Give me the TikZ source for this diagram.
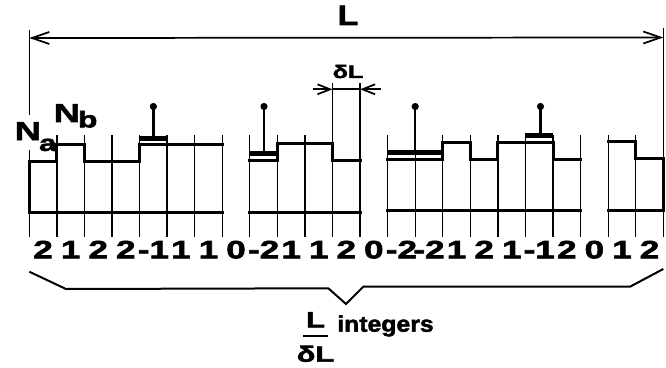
\documentclass[tikz,border=0pt]{standalone}
\usepackage{fontspec}
\setmainfont{Liberation Sans}
\newfontfamily\labfont{Liberation Sans}[FakeStretch=1.4, BoldFeatures={FakeBold=2.5}]
\newfontfamily\capfont{Liberation Sans}[FakeStretch=1.2, BoldFeatures={FakeBold=2.5}]
\newfontfamily\wordfont{Liberation Sans}[FakeStretch=1.1, BoldFeatures={FakeBold=2}]
\usetikzlibrary{arrows.meta}

% x position of the k-th cell boundary (in px)
\def\cx#1{29.3+27.565*#1}

\begin{document}
\begin{tikzpicture}[x=0.75pt,y=-0.75pt,
  gridline/.style={line width=1pt},
  profile/.style={line width=2.25pt, line join=miter, line cap=rect},
  barmark/.style={line width=3.75pt},
  stem/.style={line width=1.7pt},
  dimline/.style={line width=1.3pt},
  bracket/.style={line width=1.5pt, line join=miter},
  bigtip/.tip={Straight Barb[length=13pt, width=9pt, line width=1.3pt]},
  smalltip/.tip={Straight Barb[length=9.5pt, width=7.5pt, line width=1.3pt]},
  numlab/.style={font=\labfont\bfseries\fontsize{18.8pt}{20pt}\selectfont, anchor=base, inner sep=0pt},
  levlab/.style={font=\labfont\bfseries\fontsize{19.5pt}{21pt}\selectfont, anchor=base west, inner sep=0pt},
  dimlab/.style={font=\labfont\bfseries\fontsize{13.5pt}{15pt}\selectfont, anchor=base, inner sep=0pt},
  toplab/.style={font=\capfont\bfseries\fontsize{21pt}{23pt}\selectfont, anchor=base, inner sep=0pt},
  fraclab/.style={font=\labfont\bfseries\fontsize{16.5pt}{18pt}\selectfont, anchor=base, inner sep=0pt},
  wordlab/.style={font=\wordfont\bfseries\fontsize{16.9pt}{18pt}\selectfont, anchor=base west, inner sep=0pt},
]
\useasboundingbox (0,0) rectangle (666,367);

% ---- cell boundaries ----
\foreach \k in {1,...,10,13,14,...,22}
  \draw[gridline] ({\cx{\k}},135) -- ({\cx{\k}},236.7);
\draw[gridline] ({\cx{11}},83) -- ({\cx{11}},236.7);
\draw[gridline] ({\cx{12}},83) -- ({\cx{12}},236.7);
\draw[gridline] ({\cx{0}},30) -- ({\cx{0}},115);
\draw[gridline] ({\cx{0}},150) -- ({\cx{0}},236.7);
\draw[gridline] ({\cx{23}},28) -- ({\cx{23}},236.7);

% ---- total length L ----
\coordinate (Lw) at ({\cx{0}},38);
\coordinate (Le) at ({\cx{23}},37.5);
\draw[dimline, bigtip-bigtip] (Lw) -- (Le);
\node[toplab] (Ltop) at (348,25) {L};

% ---- cell width dL ----
\coordinate (dLa) at (313,89.3);
\coordinate (dLb) at ({\cx{11}},89.3);
\coordinate (dLc) at ({\cx{12}},89.3);
\coordinate (dLd) at (381,89.3);
\draw[dimline, -smalltip] (dLa) -- (dLb);
\draw[dimline] (dLb) -- (dLc);
\draw[dimline, -smalltip] (dLd) -- (dLc);
\node[dimlab] (dL) at (348,78) {δL};

% ---- height profiles ----
% segment 1
\draw[profile] ({\cx{7}},212.7) -- ({\cx{0}},212.7) -- ({\cx{0}},161) -- ({\cx{1}},161)
  -- ({\cx{1}},144.3) -- ({\cx{2}},144.3) -- ({\cx{2}},161) -- ({\cx{4}},161)
  -- ({\cx{4}},144.3) -- ({\cx{7}},144.3);
% segment 2
\draw[profile] ({\cx{8}},160) -- ({\cx{9}},160) -- ({\cx{9}},143) -- ({\cx{11}},143)
  -- ({\cx{11}},160) -- ({\cx{12}},160);
\draw[profile] ({\cx{8}},212) -- ({\cx{12}},212);
% segment 3
\draw[profile] ({\cx{13}},159) -- ({\cx{15}},159) -- ({\cx{15}},142.3) -- ({\cx{16}},142.3)
  -- ({\cx{16}},159) -- ({\cx{17}},159) -- ({\cx{17}},142.3) -- ({\cx{19}},142.3)
  -- ({\cx{19}},159) -- ({\cx{20}},159);
\draw[profile] ({\cx{13}},210.7) -- ({\cx{20}},210.7);
% segment 4
\draw[profile] ({\cx{21}},141.7) -- ({\cx{22}},141.7) -- ({\cx{22}},158.3) -- ({\cx{23}},158.3)
  -- ({\cx{23}},210) -- ({\cx{21}},210);

% ---- marked cells with pins ----
\draw[barmark] ({\cx{4}},138) -- ({\cx{5}},138);
\draw[barmark] ({\cx{8}},153.8) -- ({\cx{9}},153.8);
\draw[barmark] ({\cx{13}},152.8) -- ({\cx{15}},152.8);
\draw[barmark] ({\cx{18}},135.8) -- ({\cx{19}},135.8);
\foreach \px/\py/\tag in {153.4/138/a, 264/153.8/b, 415.2/152.8/c, 540.5/135.8/d}{
  \coordinate (pin\tag) at (\px,106.5);
  \draw[stem] (\px,\py) -- (pin\tag);
  \fill (pin\tag) circle[radius=3.6];
}

% ---- level labels ----
\node[levlab] (Na) at (14.5,140) {N\kern-1.5pt\raisebox{-8.2pt}{\fontsize{17pt}{18pt}\selectfont a}};
\node[levlab] (Nb) at (53.5,122) {N\kern-1.5pt\raisebox{-4pt}{\fontsize{17pt}{18pt}\selectfont b}};

% ---- integers per cell ----
\foreach \v [count=\i from 0] in {2,1,2,2,-1,1,1,0,-2,1,1,2,0,-2,-2,1,2,1,-1,2,0,1,2}
  \node[numlab] (n\i) at ({\cx{\i}+13.78},258.3) {\v};

% ---- brace under the row ----
\draw[bracket] ({\cx{0}},271.7) -- (66,289) -- (328.3,288.3) -- (346,304)
  -- (363.3,286.7) -- (630,286.7) -- ({\cx{23}},269);

% ---- count label ----
\node[fraclab] (fnum) at (315.5,327.3) {L};
\node[fraclab] (fden) at (315.5,361.7) {δL};
\draw[line width=1.5pt] (303,335.7) -- (328,335.7);
\node[wordlab] (words) at (337,331.7) {integers};
\end{tikzpicture}
\end{document}
